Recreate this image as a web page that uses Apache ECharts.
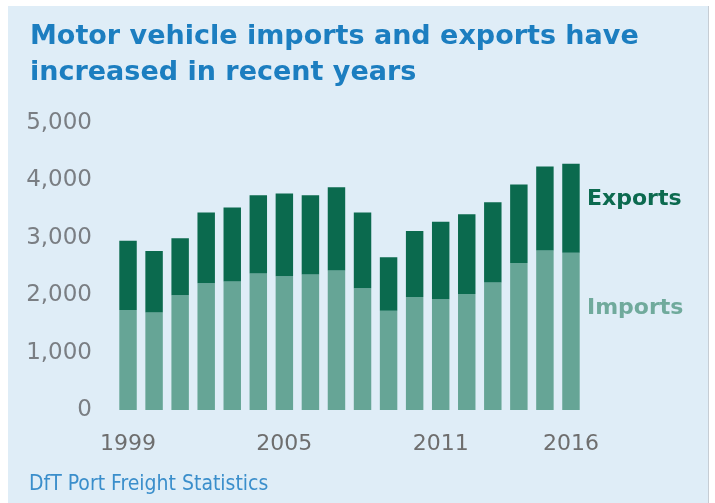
<!DOCTYPE html>
<html>
<head>
<meta charset="utf-8">
<script src="https://cdn.jsdelivr.net/npm/echarts@6/dist/echarts.min.js"></script>
<style>
  html, body { margin: 0; padding: 0; background: #ffffff; }
  #panel {
    position: absolute; left: 8px; top: 6px;
    width: 700px; height: 497px;
    background: #dfedf7;
    border-right: 1px solid #c6cdd4;
  }
  #chart { width: 700px; height: 497px; }
</style>
</head>
<body>
<div id="panel"><div id="chart"></div></div>
<script>
// Motor vehicle units through UK ports, thousands
const years = ['1999','2000','2001','2002','2003','2004','2005','2006','2007',
               '2008','2009','2010','2011','2012','2013','2014','2015','2016'];
const imports = [1740,1700,2000,2210,2240,2380,2330,2360,2430,
                 2120,1730,1970,1930,2020,2220,2560,2780,2740];
const exports = [1210,1070,990,1230,1290,1360,1440,1380,1450,
                 1320,930,1150,1350,1390,1400,1370,1460,1550];
const shownYearIdx = [0, 6, 12, 17];

const titleText = 'Motor vehicle imports and exports have\nincreased in recent years';
const sourceText = 'DfT Port Freight Statistics';

const IMPORT_COLOR = '#66a596';
const EXPORT_COLOR = '#0b6a4e';

const chart = echarts.init(document.getElementById('chart'), null, { renderer: 'canvas' });

chart.setOption({
  backgroundColor: 'transparent',
  animation: false,
  title: {
    text: titleText,
    left: 22,
    top: 13,
    padding: 0,
    textStyle: {
      fontFamily: 'DejaVu Sans',
      fontWeight: 'bold',
      fontSize: 27,
      lineHeight: 36,
      color: '#1c7ec0'
    }
  },
  grid: { left: 107, right: 124, top: 117, bottom: 93, containLabel: false },
  xAxis: {
    type: 'category',
    data: years,
    axisLine: { show: false },
    axisTick: { show: false },
    axisLabel: {
      interval: (i) => shownYearIdx.includes(i),
      margin: 23,
      fontFamily: 'DejaVu Sans',
      fontSize: 22,
      color: '#6e6e6e'
    }
  },
  yAxis: {
    type: 'value',
    min: 0,
    max: 5000,
    interval: 1000,
    splitLine: { show: false },
    axisLine: { show: false },
    axisTick: { show: false },
    axisLabel: {
      margin: 23,
      fontFamily: 'DejaVu Sans',
      fontSize: 23,
      color: '#7a7e83',
      formatter: (v) => v.toLocaleString('en-US')
    }
  },
  series: [
    {
      name: 'Imports',
      type: 'bar',
      stack: 'vehicles',
      data: imports,
      barWidth: '67%',
      itemStyle: { color: IMPORT_COLOR }
    },
    {
      name: 'Exports',
      type: 'bar',
      stack: 'vehicles',
      data: exports,
      barWidth: '67%',
      itemStyle: { color: EXPORT_COLOR }
    }
  ],
  graphic: [
    {
      type: 'text', left: 579, top: 182,
      style: { text: 'Exports', fill: '#0c6a4f', font: 'bold 22px "DejaVu Sans"' }
    },
    {
      type: 'text', left: 579, top: 291,
      style: { text: 'Imports', fill: '#70aa9c', font: 'bold 22px "DejaVu Sans"' }
    },
    {
      type: 'text', left: 21, top: 468,
      style: { text: sourceText, fill: '#3a8ecb', font: '21px "DejaVu Sans Condensed", "DejaVu Sans"' }
    }
  ]
});
</script>
</body>
</html>
